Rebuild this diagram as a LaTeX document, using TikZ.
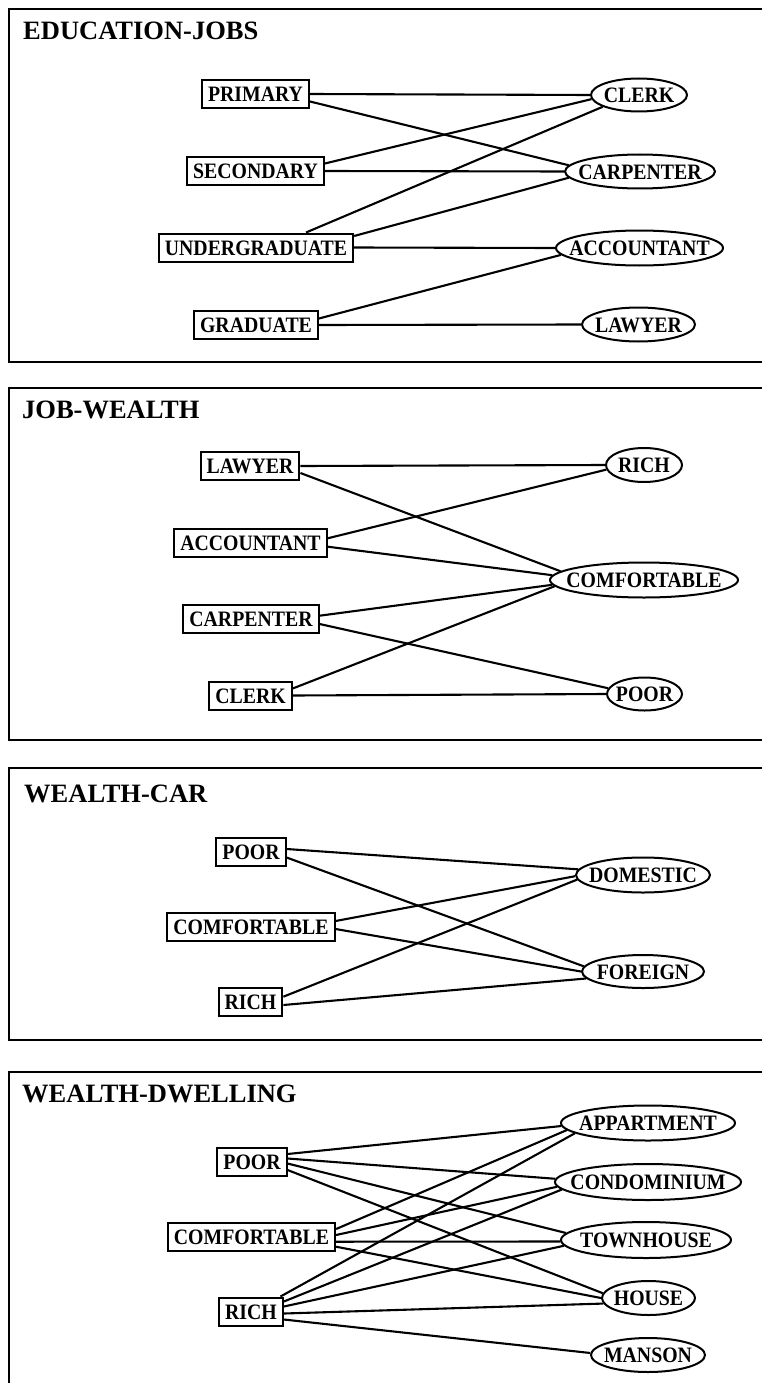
\documentclass[tikz,border=0pt]{standalone}
\usepackage{fontspec}
\setmainfont{Liberation Serif}
\newfontfamily\nodefont{Liberation Serif}[FakeStretch=0.9]
\usetikzlibrary{shapes.geometric}

\tikzset{
  lbl/.style={font=\nodefont\fontsize{22}{26}\selectfont\bfseries},
  box/.style={lbl, draw, line width=2pt, rectangle, inner xsep=6pt, inner ysep=6.5pt,
              text height=15pt, text depth=0pt},
  oval/.style={lbl, draw, line width=2pt, ellipse, inner xsep=-45pt, inner ysep=-20pt,
               text height=15pt, text depth=0pt},
  ttl/.style={font=\fontsize{26.5}{30}\selectfont\bfseries, anchor=base west, inner sep=0pt},
  frame/.style={line width=2pt},
  link/.style={line width=2.1pt}
}

\begin{document}
\begin{tikzpicture}[x=1pt, y=-1pt]
\useasboundingbox (0,0) rectangle (762,1383);

% ---------------- EDUCATION-JOBS ----------------
\draw[frame] (762,9) -- (9,9) -- (9,362) -- (762,362);
\node[ttl] (t1) at (23,40) {EDUCATION-JOBS};
\node[box] (e1) at (255.5,94)  {PRIMARY};
\node[box] (e2) at (255.5,171) {SECONDARY};
\node[box] (e3) at (256,247.5) {UNDERGRADUATE};
\node[box] (e4) at (256,325)   {GRADUATE};
\node[oval, minimum width=96pt,  minimum height=33pt] (j1) at (639,95)    {CLERK};
\node[oval, minimum width=150pt, minimum height=34pt] (j2) at (640,171.5) {CARPENTER};
\node[oval, minimum width=167pt, minimum height=35pt] (j3) at (639.5,248) {ACCOUNTANT};
\node[oval, minimum width=113pt, minimum height=34pt] (j4) at (638.5,324.5) {LAWYER};
\draw[link] (e1.east) -- (j1.180);
\draw[link] ([yshift=-7.5pt]e1.east) -- (j2.175);
\draw[link] ([yshift=7.5pt]e2.east) -- (j1.185);
\draw[link] (e2.east) -- (j2.180);
\draw[link] ([xshift=50pt]e3.north) -- (j1.198);
\draw[link] ([yshift=11.5pt]e3.east) -- (j2.185);
\draw[link] (e3.east) -- (j3.180);
\draw[link] ([yshift=6.5pt]e4.east) -- (j3.185);
\draw[link] (e4.east) -- (j4.180);

% ---------------- JOB-WEALTH ----------------
\draw[frame] (762,388) -- (9,388) -- (9,740) -- (762,740);
\node[ttl] (t2) at (22,418) {JOB-WEALTH};
\node[box] (b1) at (250,466)     {LAWYER};
\node[box] (b2) at (250.5,543)   {ACCOUNTANT};
\node[box] (b3) at (251,619)     {CARPENTER};
\node[box] (b4) at (250.5,695.5) {CLERK};
\node[oval, minimum width=76pt,  minimum height=34pt] (w1) at (644,465)   {RICH};
\node[oval, minimum width=188pt, minimum height=35pt] (w2) at (644,580)   {COMFORTABLE};
\node[oval, minimum width=75pt,  minimum height=33pt] (w3) at (644.5,694) {POOR};
\draw[link] (b1.east) -- (w1.180);
\draw[link] ([yshift=-7pt]b1.east) -- (w2.174.6);
\draw[link] ([yshift=4.7pt]b2.east) -- (w1.187.7);
\draw[link] ([yshift=-3.7pt]b2.east) -- (w2.177);
\draw[link] ([yshift=3.3pt]b3.east) -- (w2.183);
\draw[link] ([yshift=-5pt]b3.east) -- (w3.171);
\draw[link] ([yshift=7pt]b4.east) -- (w2.184.5);
\draw[link] (b4.east) -- (w3.180);

% ---------------- WEALTH-CAR ----------------
\draw[frame] (762,768) -- (9,768) -- (9,1040) -- (762,1040);
\node[ttl] (t3) at (24,802) {WEALTH-CAR};
\node[box] (c1) at (251,851.5) {POOR};
\node[box] (c2) at (251,927)   {COMFORTABLE};
\node[box] (c3) at (250.5,1002) {RICH};
\node[oval, minimum width=134pt, minimum height=35pt] (k1) at (643,875)   {DOMESTIC};
\node[oval, minimum width=122pt, minimum height=33pt] (k2) at (643,971.5) {FOREIGN};
\draw[link] ([yshift=2.5pt]c1.east) -- (k1.175.6);
\draw[link] ([yshift=-6pt]c1.east) -- (k2.175.3);
\draw[link] ([yshift=6pt]c2.east) -- (k1.181);
\draw[link] ([yshift=-2pt]c2.east) -- (k2.180);
\draw[link] ([yshift=5.3pt]c3.east) -- (k1.184.4);
\draw[link] ([yshift=-3pt]c3.east) -- (k2.187);

% ---------------- WEALTH-DWELLING ----------------
\draw[frame] (762,1072) -- (9,1072) -- (9,1383);
\node[ttl] (t4) at (22,1102) {WEALTH-DWELLING};
\node[box] (d1) at (252,1161.5)  {POOR};
\node[box] (d2) at (251.5,1237)  {COMFORTABLE};
\node[box] (d3) at (251,1311.5)  {RICH};
\node[oval, minimum width=174pt, minimum height=35pt] (h1) at (648,1123)   {APPARTMENT};
\node[oval, minimum width=186pt, minimum height=36pt] (h2) at (648,1182)   {CONDOMINIUM};
\node[oval, minimum width=170pt, minimum height=36pt] (h3) at (646,1240)   {TOWNHOUSE};
\node[oval, minimum width=93pt,  minimum height=34pt] (h4) at (648.5,1298) {HOUSE};
\node[oval, minimum width=114pt, minimum height=34pt] (h5) at (648,1355)   {MANSON};
\draw[link] ([yshift=7.5pt]d1.east) -- (h1.182);
\draw[link] ([yshift=3pt]d1.east) -- (h2.178.8);
\draw[link] ([yshift=-2pt]d1.east) -- (h3.175.4);
\draw[link] ([yshift=-8.5pt]d1.east) -- (h4.174);
\draw[link] ([yshift=8pt]d2.east) -- (h1.185.8);
\draw[link] ([yshift=2pt]d2.east) -- (h2.183);
\draw[link] ([yshift=-4.7pt]d2.east) -- (h3.181);
\draw[link] ([yshift=-9.7pt]d2.east) -- (h4.180);
\draw[link] ([xshift=29.5pt]d3.north) -- (h1.188.3);
\draw[link] ([yshift=10pt]d3.east) -- (h2.185);
\draw[link] ([yshift=5pt]d3.east) -- (h3.184.7);
\draw[link] ([yshift=-2pt]d3.east) -- (h4.187);
\draw[link] ([yshift=-8pt]d3.east) -- (h5.178);
\end{tikzpicture}
\end{document}
